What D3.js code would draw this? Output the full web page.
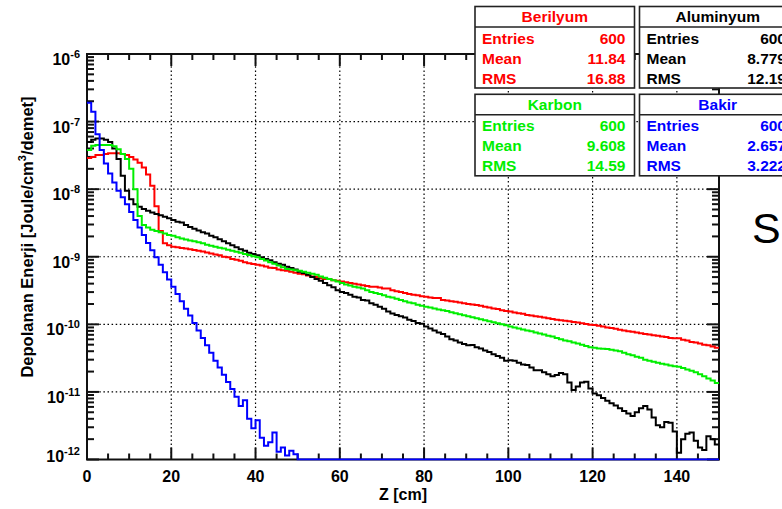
<!DOCTYPE html>
<html>
<head>
<meta charset="utf-8">
<script src="https://cdn.jsdelivr.net/npm/d3@7"></script>
<style>
body { margin: 0; background: #fff; }
svg text { font-family: "Liberation Sans", Arial, sans-serif; }
</style>
</head>
<body>
<svg id="chart" width="782" height="509"></svg>
<script>
// bin width of the histograms, in cm (bins start at z = 0)
var binWidth = 1;

// deposited energy per bin [Joule/cm^3/demet]
var berilyum = [
	2.9e-8,3.0e-8,3.2e-8,3.2e-8,3.3e-8,3.4e-8,3.4e-8,3.4e-8,3.3e-8,3.2e-8,
	3.0e-8,2.75e-8,2.45e-8,2.1e-8,1.65e-8,1.12e-8,5.6e-9,2.4e-9,1.58e-9,1.48e-9,
	1.41e-9,1.38e-9,1.35e-9,1.32e-9,1.29e-9,1.26e-9,1.23e-9,1.2e-9,1.16e-9,1.12e-9,
	1.08e-9,1.05e-9,1.0e-9,9.8e-10,9.3e-10,9.0e-10,8.7e-10,8.3e-10,8.0e-10,7.8e-10,
	7.6e-10,7.4e-10,7.2e-10,6.9e-10,6.8e-10,6.5e-10,6.3e-10,6.2e-10,6.0e-10,5.8e-10,
	5.6e-10,5.5e-10,5.3e-10,5.1e-10,5.0e-10,4.8e-10,4.7e-10,4.7e-10,4.5e-10,4.4e-10,
	4.3e-10,4.2e-10,4.1e-10,4.0e-10,3.9e-10,3.8e-10,3.7e-10,3.6e-10,3.6e-10,3.5e-10,
	3.4e-10,3.4e-10,3.2e-10,3.1e-10,3.0e-10,2.9e-10,2.8e-10,2.75e-10,2.7e-10,2.6e-10,
	2.55e-10,2.5e-10,2.45e-10,2.45e-10,2.3e-10,2.25e-10,2.2e-10,2.15e-10,2.1e-10,2.05e-10,
	2.0e-10,1.97e-10,1.93e-10,1.88e-10,1.82e-10,1.78e-10,1.72e-10,1.68e-10,1.62e-10,1.58e-10,
	1.55e-10,1.5e-10,1.46e-10,1.43e-10,1.38e-10,1.35e-10,1.32e-10,1.29e-10,1.26e-10,1.23e-10,
	1.2e-10,1.17e-10,1.15e-10,1.13e-10,1.11e-10,1.08e-10,1.06e-10,1.04e-10,1.01e-10,9.9e-11,
	9.8e-11,9.5e-11,9.3e-11,9.0e-11,8.8e-11,8.6e-11,8.3e-11,8.1e-11,7.9e-11,7.8e-11,
	7.6e-11,7.4e-11,7.2e-11,7.1e-11,6.9e-11,6.8e-11,6.6e-11,6.5e-11,6.3e-11,6.2e-11,
	6.2e-11,5.9e-11,5.75e-11,5.5e-11,5.4e-11,5.2e-11,5.0e-11,4.9e-11,4.7e-11,4.5e-11
];

var aluminyum = [
	5.0e-8,5.4e-8,5.6e-8,5.6e-8,5.4e-8,5.0e-8,4.0e-8,2.8e-8,1.58e-8,9.5e-9,
	7.1e-9,6.0e-9,5.5e-9,5.1e-9,4.8e-9,4.5e-9,4.3e-9,4.1e-9,3.9e-9,3.7e-9,
	3.5e-9,3.3e-9,3.2e-9,2.95e-9,2.75e-9,2.6e-9,2.45e-9,2.3e-9,2.2e-9,2.05e-9,
	1.95e-9,1.82e-9,1.7e-9,1.58e-9,1.48e-9,1.38e-9,1.29e-9,1.23e-9,1.15e-9,1.1e-9,
	1.05e-9,9.8e-10,9.3e-10,8.9e-10,8.3e-10,7.9e-10,7.6e-10,7.1e-10,6.8e-10,6.5e-10,
	6.0e-10,5.75e-10,5.4e-10,5.0e-10,4.7e-10,4.4e-10,4.1e-10,3.8e-10,3.55e-10,3.2e-10,
	3.0e-10,2.9e-10,2.75e-10,2.55e-10,2.5e-10,2.3e-10,2.25e-10,2.05e-10,1.95e-10,1.82e-10,
	1.7e-10,1.55e-10,1.45e-10,1.38e-10,1.32e-10,1.26e-10,1.17e-10,1.12e-10,1.05e-10,1.02e-10,
	9.3e-11,8.7e-11,8.1e-11,7.6e-11,7.2e-11,6.6e-11,6.0e-11,5.75e-11,5.4e-11,5.1e-11,
	4.9e-11,4.95e-11,4.6e-11,4.4e-11,4.1e-11,3.9e-11,3.6e-11,3.4e-11,3.2e-11,2.9e-11,
	2.95e-11,2.9e-11,2.7e-11,2.55e-11,2.5e-11,2.3e-11,2.1e-11,2.1e-11,1.95e-11,1.82e-11,
	1.7e-11,1.78e-11,1.9e-11,1.82e-11,1.38e-11,1.07e-11,1.2e-11,1.38e-11,1.41e-11,1.12e-11,
	9.5e-12,8.9e-12,8.1e-12,7.4e-12,6.8e-12,6.3e-12,5.75e-12,5.2e-12,4.8e-12,4.4e-12,
	5.0e-12,5.75e-12,6.2e-12,5.5e-12,4.2e-12,3.2e-12,3.0e-12,3.6e-12,3.5e-12,2.6e-12,
	1.26e-12,2.0e-12,2.4e-12,2.5e-12,1.9e-12,1.5e-12,1.38e-12,2.2e-12,2.0e-12,1.66e-12
];

var karbon = [
	3.8e-8,4.4e-8,4.5e-8,4.5e-8,4.5e-8,4.5e-8,4.3e-8,3.9e-8,3.3e-8,2.8e-8,
	2.0e-8,1.0e-8,4.0e-9,2.95e-9,2.7e-9,2.5e-9,2.4e-9,2.3e-9,2.2e-9,2.1e-9,
	2.05e-9,1.95e-9,1.86e-9,1.8e-9,1.74e-9,1.7e-9,1.64e-9,1.58e-9,1.51e-9,1.46e-9,
	1.41e-9,1.36e-9,1.32e-9,1.27e-9,1.23e-9,1.19e-9,1.15e-9,1.1e-9,1.06e-9,1.02e-9,
	9.8e-10,9.3e-10,8.8e-10,8.3e-10,7.9e-10,7.4e-10,7.0e-10,6.6e-10,6.5e-10,6.3e-10,
	6.2e-10,6.0e-10,5.8e-10,5.6e-10,5.4e-10,5.1e-10,4.9e-10,4.7e-10,4.5e-10,4.3e-10,
	4.1e-10,3.9e-10,3.75e-10,3.6e-10,3.5e-10,3.4e-10,3.2e-10,3.0e-10,2.9e-10,2.8e-10,
	2.7e-10,2.55e-10,2.5e-10,2.4e-10,2.3e-10,2.2e-10,2.1e-10,2.05e-10,1.95e-10,1.88e-10,
	1.82e-10,1.78e-10,1.72e-10,1.66e-10,1.62e-10,1.57e-10,1.51e-10,1.46e-10,1.41e-10,1.36e-10,
	1.32e-10,1.27e-10,1.23e-10,1.19e-10,1.15e-10,1.11e-10,1.07e-10,1.04e-10,1.0e-10,9.7e-11,
	9.3e-11,9.0e-11,8.7e-11,8.4e-11,8.1e-11,7.9e-11,7.6e-11,7.3e-11,7.1e-11,6.8e-11,
	6.6e-11,6.3e-11,6.0e-11,5.75e-11,5.6e-11,5.4e-11,5.2e-11,5.0e-11,4.8e-11,4.6e-11,
	4.5e-11,4.4e-11,4.35e-11,4.3e-11,4.2e-11,4.1e-11,4.0e-11,3.8e-11,3.6e-11,3.5e-11,
	3.3e-11,3.2e-11,3.0e-11,2.9e-11,2.8e-11,2.7e-11,2.6e-11,2.55e-11,2.45e-11,2.4e-11,
	2.35e-11,2.25e-11,2.15e-11,2.05e-11,1.95e-11,1.82e-11,1.7e-11,1.58e-11,1.48e-11,1.35e-11
];

var bakir = [
	1.9e-7,1.4e-7,6.5e-8,3.8e-8,2.4e-8,1.7e-8,1.25e-8,9.5e-9,7.6e-9,6.0e-9,
	4.6e-9,3.5e-9,2.7e-9,2.1e-9,1.6e-9,1.25e-9,9.8e-10,7.6e-10,5.9e-10,4.6e-10,
	3.6e-10,2.8e-10,2.2e-10,1.7e-10,1.35e-10,1.05e-10,8.1e-11,6.3e-11,4.9e-11,3.8e-11,
	2.9e-11,2.3e-11,1.8e-11,1.4e-11,1.1e-11,8.5e-12,6.2e-12,7.5e-12,4.0e-12,2.9e-12,
	3.8e-12,2.1e-12,1.6e-12,1.8e-12,2.5e-12,1.3e-12,1.5e-12,1.15e-12,1.35e-12,1.2e-12,
	0,0,0,0,0,0,0,0,0,0, 0,0,0,0,0,0,0,0,0,0,
	0,0,0,0,0,0,0,0,0,0, 0,0,0,0,0,0,0,0,0,0,
	0,0,0,0,0,0,0,0,0,0, 0,0,0,0,0,0,0,0,0,0,
	0,0,0,0,0,0,0,0,0,0, 0,0,0,0,0,0,0,0,0,0,
	0,0,0,0,0,0,0,0,0,0, 0,0,0,0,0,0,0,0,0,0
];

// stat boxes
var statNames = ["Berilyum", "Aluminyum", "Karbon", "Bakir"];
var statColors = ["#ff0000", "#000000", "#00ee00", "#0000ff"];
var statEntries = ["600", "600", "600", "600"];
var statMeans = ["11.84", "8.779", "9.608", "2.657"];
var statRms = ["16.88", "12.19", "14.59", "3.222"];

var xMajor = [0, 20, 40, 60, 80, 100, 120, 140];
var yDecades = [-6, -7, -8, -9, -10, -11, -12];

var series = [
	{ name: "Berilyum", values: berilyum, color: "#ff0000" },
	{ name: "Aluminyum", values: aluminyum, color: "#000000" },
	{ name: "Karbon", values: karbon, color: "#00ee00" },
	{ name: "Bakir", values: bakir, color: "#0000ff" }
];

var svg = d3.select("#chart");
var x0 = 87, x1 = 719, y0 = 54, y1 = 459.5;

var x = d3.scaleLinear().domain([0, 150]).range([x0, x1]);
var y = d3.scaleLog().domain([1e-12, 1e-6]).range([y1, y0]);

svg.append("rect").attr("width", 782).attr("height", 509).attr("fill", "#fff");

svg.append("clipPath").attr("id", "plotClip")
	.append("rect").attr("x", x0 - 1).attr("y", y0 - 1)
	.attr("width", x1 - x0 + 2).attr("height", y1 - y0 + 2);

// grid
var grid = svg.append("g").attr("stroke", "#000").attr("stroke-width", 1.2)
	.attr("stroke-dasharray", "1.5,2.6");
grid.selectAll(".vg").data(xMajor.slice(1)).enter().append("line")
	.attr("x1", function(d) { return x(d); }).attr("x2", function(d) { return x(d); })
	.attr("y1", y0).attr("y2", y1);
grid.selectAll(".hg").data(yDecades.slice(1, -1)).enter().append("line")
	.attr("y1", function(d) { return y(Math.pow(10, d)); })
	.attr("y2", function(d) { return y(Math.pow(10, d)); })
	.attr("x1", x0).attr("x2", x1);

// frame and ticks (ROOT style, ticks inside on all four sides)
var frame = svg.append("g").attr("stroke", "#111").attr("stroke-width", 2);
frame.append("rect").attr("x", x0).attr("y", y0)
	.attr("width", x1 - x0).attr("height", y1 - y0).attr("fill", "none");

var xMinor = d3.range(0, 151, 5);
xMinor.forEach(function(d) {
	var len = (d % 20 === 0) ? 12 : 6;
	frame.append("line").attr("x1", x(d)).attr("x2", x(d)).attr("y1", y1).attr("y2", y1 - len);
	frame.append("line").attr("x1", x(d)).attr("x2", x(d)).attr("y1", y0).attr("y2", y0 + len);
});

y.ticks().forEach(function(d) {
	var m = Math.round(d / Math.pow(10, Math.floor(Math.log10(d) + 1e-9)));
	var len = (m === 1) ? 12 : 7;
	var yy = y(d);
	frame.append("line").attr("x1", x0).attr("x2", x0 + len).attr("y1", yy).attr("y2", yy);
	frame.append("line").attr("x1", x1).attr("x2", x1 - len).attr("y1", yy).attr("y2", yy);
});

// histograms
var line = d3.line().curve(d3.curveStepAfter);
var plot = svg.append("g").attr("clip-path", "url(#plotClip)");
series.forEach(function(s) {
	var pts = s.values.map(function(v, i) {
		return [x(i * binWidth), v > 0 ? y(Math.max(v, 1e-12)) : y1];
	});
	pts.push([x(s.values.length * binWidth), pts[pts.length - 1][1]]);
	plot.append("path")
		.attr("d", line(pts))
		.attr("fill", "none")
		.attr("stroke", s.color)
		.attr("stroke-width", 2);
});

// x tick labels
svg.selectAll(".xl").data(xMajor).enter().append("text")
	.attr("x", function(d) { return x(d); })
	.attr("y", 482)
	.attr("text-anchor", "middle")
	.attr("font-size", 16).attr("font-weight", "bold")
	.text(function(d) { return d; });

// y tick labels 10^n
yDecades.forEach(function(k) {
	var yy = y(Math.pow(10, k)) + (k === -12 ? 2 : 11);
	var t = svg.append("text").attr("x", 80).attr("y", yy)
		.attr("text-anchor", "end").attr("font-size", 16).attr("font-weight", "bold");
	t.append("tspan").text("10");
	t.append("tspan").attr("dy", -7).attr("font-size", 11).text(k);
});

svg.append("text")
	.attr("x", (x0 + x1) / 2).attr("y", 500)
	.attr("text-anchor", "middle")
	.attr("font-size", 16).attr("font-weight", "bold")
	.text("Z [cm]");

var yt = svg.append("text")
	.attr("transform", "translate(33,237) rotate(-90)")
	.attr("text-anchor", "middle")
	.attr("font-size", 16.5).attr("font-weight", "bold");
yt.append("tspan").text("Depolanan Enerji [Joule/cm");
yt.append("tspan").attr("dy", -7).attr("font-size", 11).text("3");
yt.append("tspan").attr("dy", 7).text("/demet]");

// stat boxes, 2 x 2
var boxW = 159.5, boxH = 81.5, titleH = 20.5;
var boxLeft = [475, 639.5], boxTop = [6.5, 94.3];
var valueMargin = [9, 13];
statNames.forEach(function(name, i) {
	var col = i % 2;
	var bx = boxLeft[col], by = boxTop[Math.floor(i / 2)];
	var g = svg.append("g").attr("fill", statColors[i]).attr("font-weight", "bold").attr("font-size", 15.5);
	g.append("rect").attr("x", bx).attr("y", by).attr("width", boxW).attr("height", boxH)
		.attr("fill", "#fff").attr("stroke", "#222").attr("stroke-width", 1.6);
	g.append("line").attr("x1", bx).attr("x2", bx + boxW)
		.attr("y1", by + titleH).attr("y2", by + titleH)
		.attr("stroke", "#222").attr("stroke-width", 1.6);
	g.append("text").attr("x", bx + boxW / 2 - col * 1.5).attr("y", by + 15.5)
		.attr("text-anchor", "middle").text(name);
	var rows = [["Entries", statEntries[i]], ["Mean", statMeans[i]], ["RMS", statRms[i]]];
	rows.forEach(function(r, j) {
		var ty = by + 37 + j * 20;
		g.append("text").attr("x", bx + 7).attr("y", ty).text(r[0]);
		g.append("text").attr("x", bx + boxW - valueMargin[col]).attr("y", ty)
			.attr("text-anchor", "end").text(r[1]);
	});
});

// stray slide text at the right edge
svg.append("text").attr("x", 752).attr("y", 243)
	.attr("font-size", 43).attr("fill", "#000").text("S");
</script>
</body>
</html>
